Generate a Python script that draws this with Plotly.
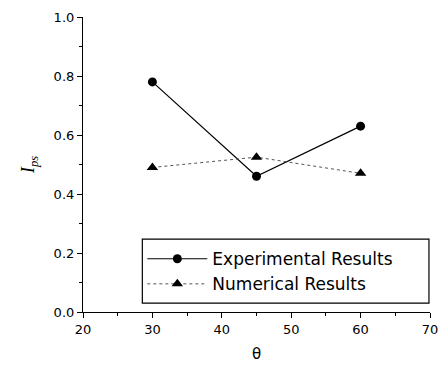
import plotly.graph_objects as go

theta = [30, 45, 60]
experimental = [0.78, 0.46, 0.63]
numerical = [0.49, 0.525, 0.47]
x_ticks = [20, 30, 40, 50, 60, 70]
y_ticks = [0.0, 0.2, 0.4, 0.6, 0.8, 1.0]

fig = go.Figure()
fig.add_trace(go.Scatter(
    x=theta, y=experimental, mode="lines+markers", name="Experimental Results",
    line=dict(color="black", width=1.2),
    marker=dict(symbol="circle", size=9, color="black")))
fig.add_trace(go.Scatter(
    x=theta, y=numerical, mode="lines+markers", name="Numerical Results",
    line=dict(color="#555555", width=1, dash="dot"),
    marker=dict(symbol="triangle-up", size=10, color="black")))

tick_font = dict(family="DejaVu Sans", size=13, color="black")
axis_common = dict(
    showgrid=False, zeroline=False, showline=True, linecolor="black", linewidth=1.2,
    ticks="outside", ticklen=5, tickcolor="black", tickwidth=1,
    tickfont=tick_font, mirror=False, ticklabeloverflow="allow",
)
fig.update_layout(
    width=447, height=368,
    margin=dict(l=83, r=9, t=17, b=56),
    paper_bgcolor="white", plot_bgcolor="white",
    xaxis=dict(range=[20, 70], tickvals=x_ticks, ticktext=[str(v) for v in x_ticks],
               minor=dict(dtick=5, ticks="outside", ticklen=3, tickcolor="black"),
               title=dict(text="θ", font=dict(family="DejaVu Sans", size=15, color="black"), standoff=12),
               **axis_common),
    yaxis=dict(range=[0, 1], tickvals=y_ticks, ticktext=[f"{v:.1f}" for v in y_ticks],
               minor=dict(dtick=0.1, ticks="outside", ticklen=3, tickcolor="black"),
               title=dict(text="<i>I<sub>ps</sub></i>", font=dict(family="Liberation Serif, Times New Roman", size=18, color="black"), standoff=14),
               **axis_common),
    legend=dict(x=0.171, y=0.24, xanchor="left", yanchor="top",
                borderwidth=0, bgcolor="rgba(0,0,0,0)",
                font=dict(family="DejaVu Sans", size=17, color="black"),
                itemwidth=60, tracegroupgap=0),
    shapes=[dict(type="rect", xref="paper", yref="paper",
                 x0=0.171, x1=0.997, y0=0.03, y1=0.247,
                 line=dict(color="black", width=1.2), fillcolor="rgba(0,0,0,0)", layer="below")],
    showlegend=True,
)
fig.write_html("out.html")
